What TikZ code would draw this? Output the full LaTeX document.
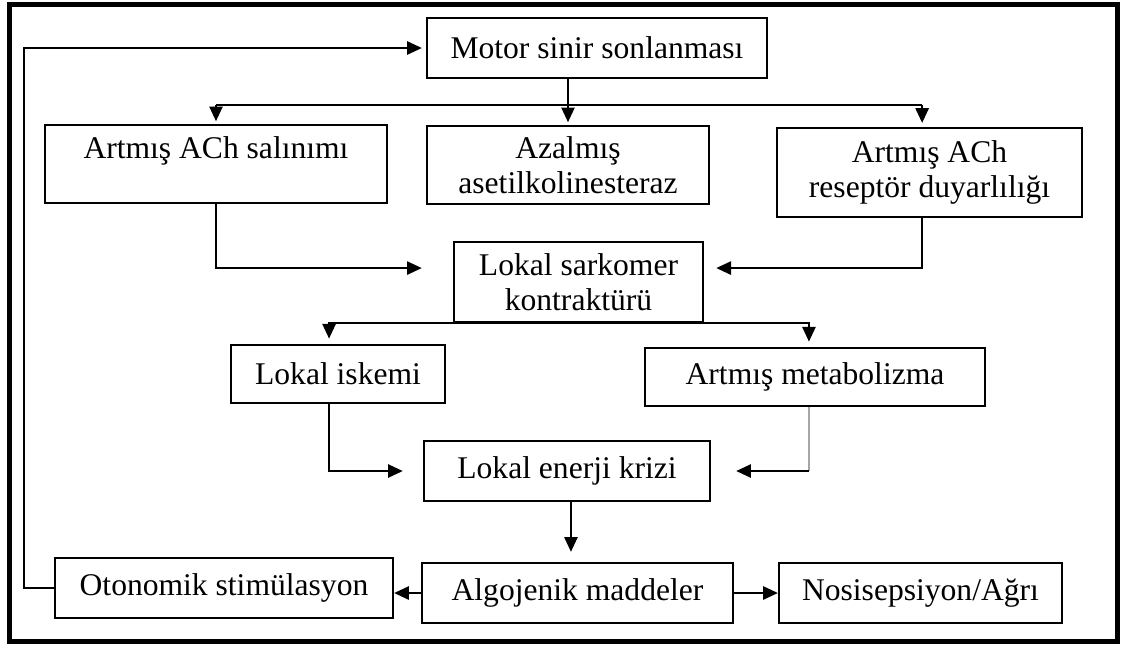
\documentclass[tikz,border=0pt]{standalone}
\usepackage{fontspec}
\setmainfont{Liberation Serif}
\usetikzlibrary{calc,arrows.meta}

\tikzset{
	kutu/.style={draw, line width=0.9pt, inner sep=0pt, align=center,
		font=\fontsize{12}{13.3}\selectfont},
	ok/.style={line width=0.8pt, -{Triangle[length=5.6pt,width=5pt]}}
}

\begin{document}
\begin{tikzpicture}[x=0.38pt,y=-0.38pt]
	\useasboundingbox (0,0) rectangle (1123,646);
	\draw[line width=1.9pt] (9.5,4.5) rectangle (1117.5,641);
	\node[kutu, minimum width=129.2pt, minimum height=22.8pt] (motor) at (597,48) {Motor sinir sonlanması};
	\node[kutu, minimum width=130pt, minimum height=29.6pt, text depth=12.2pt] (salinim) at (216,164) {Artmış ACh salınımı};
	\node[kutu, minimum width=107.2pt, minimum height=29.6pt] (azalmis) at (568,165) {Azalmış\\asetilkolinesteraz};
	\node[kutu, minimum width=115.9pt, minimum height=33.8pt] (reseptor) at (929.5,172.5) {Artmış ACh\\reseptör duyarlılığı};
	\node[kutu, minimum width=94.6pt, minimum height=30.4pt] (sarkomer) at (578.5,282) {Lokal sarkomer\\kontraktürü};
	\node[kutu, minimum width=81.3pt, minimum height=22pt] (iskemi) at (338,374) {Lokal iskemi};
	\node[kutu, minimum width=129.2pt, minimum height=22pt] (metab) at (815,377) {Artmış metabolizma};
	\node[kutu, minimum width=108.7pt, minimum height=22.8pt] (enerji) at (567,471) {Lokal enerji krizi};
	\node[kutu, minimum width=128.4pt, minimum height=22.8pt] (otonom) at (224,588) {Otonomik stimülasyon};
	\node[kutu, minimum width=118.2pt, minimum height=22.8pt] (algo) at (577.5,593) {Algojenik maddeler};
	\node[kutu, minimum width=107.5pt, minimum height=22.8pt] (nosi) at (920.5,593) {Nosisepsiyon/Ağrı};
	\coordinate (split) at (0,105);
	\coordinate (rs) at ([xshift=-2.8pt]reseptor.north);
	\coordinate (rsb) at ([xshift=-2.8pt]reseptor.south);
	\coordinate (isk) at ([xshift=-3.4pt]iskemi.north);
	\coordinate (met) at ([xshift=-2.3pt]metab.north);
	\draw[ok, shorten >=1.5pt] (otonom.west) -- ++(-30,0) |- (motor.west);
	\draw[ok, shorten >=1pt] (azalmis.north |- motor.south) -- (azalmis.north);
	\draw[line width=0.8pt] (salinim.north |- split) -- (rs |- split);
	\draw[ok, shorten >=1pt] (salinim.north |- split) -- (salinim.north);
	\draw[ok, shorten >=1.5pt] (rs |- split) -- (rs);
	\draw[ok, shorten >=11.8pt] (salinim.south) |- ([yshift=5.3pt]sarkomer.west);
	\draw[ok, shorten >=4.6pt] (rsb) |- ([yshift=5.3pt]sarkomer.east);
	\draw[ok, shorten >=2pt] (sarkomer.south) -| (isk);
	\draw[ok, shorten >=2pt] (sarkomer.south) -| (met);
	\draw[ok, shorten >=7.6pt] (isk |- iskemi.south) |- (enerji.west);
	\draw[line width=0.8pt, gray!70] (met |- metab.south) -- (met |- enerji.east);
	\draw[ok, shorten >=9.5pt] (met |- enerji.east) -- (enerji.east);
	\draw[ok, shorten >=3.8pt] ([xshift=1.5pt]enerji.south) -- ([xshift=1.5pt]enerji.south |- algo.north);
	\draw[ok] (algo.west) -- (algo.west -| otonom.east);
	\draw[ok] (algo.east) -- (nosi.west);
\end{tikzpicture}
\end{document}
